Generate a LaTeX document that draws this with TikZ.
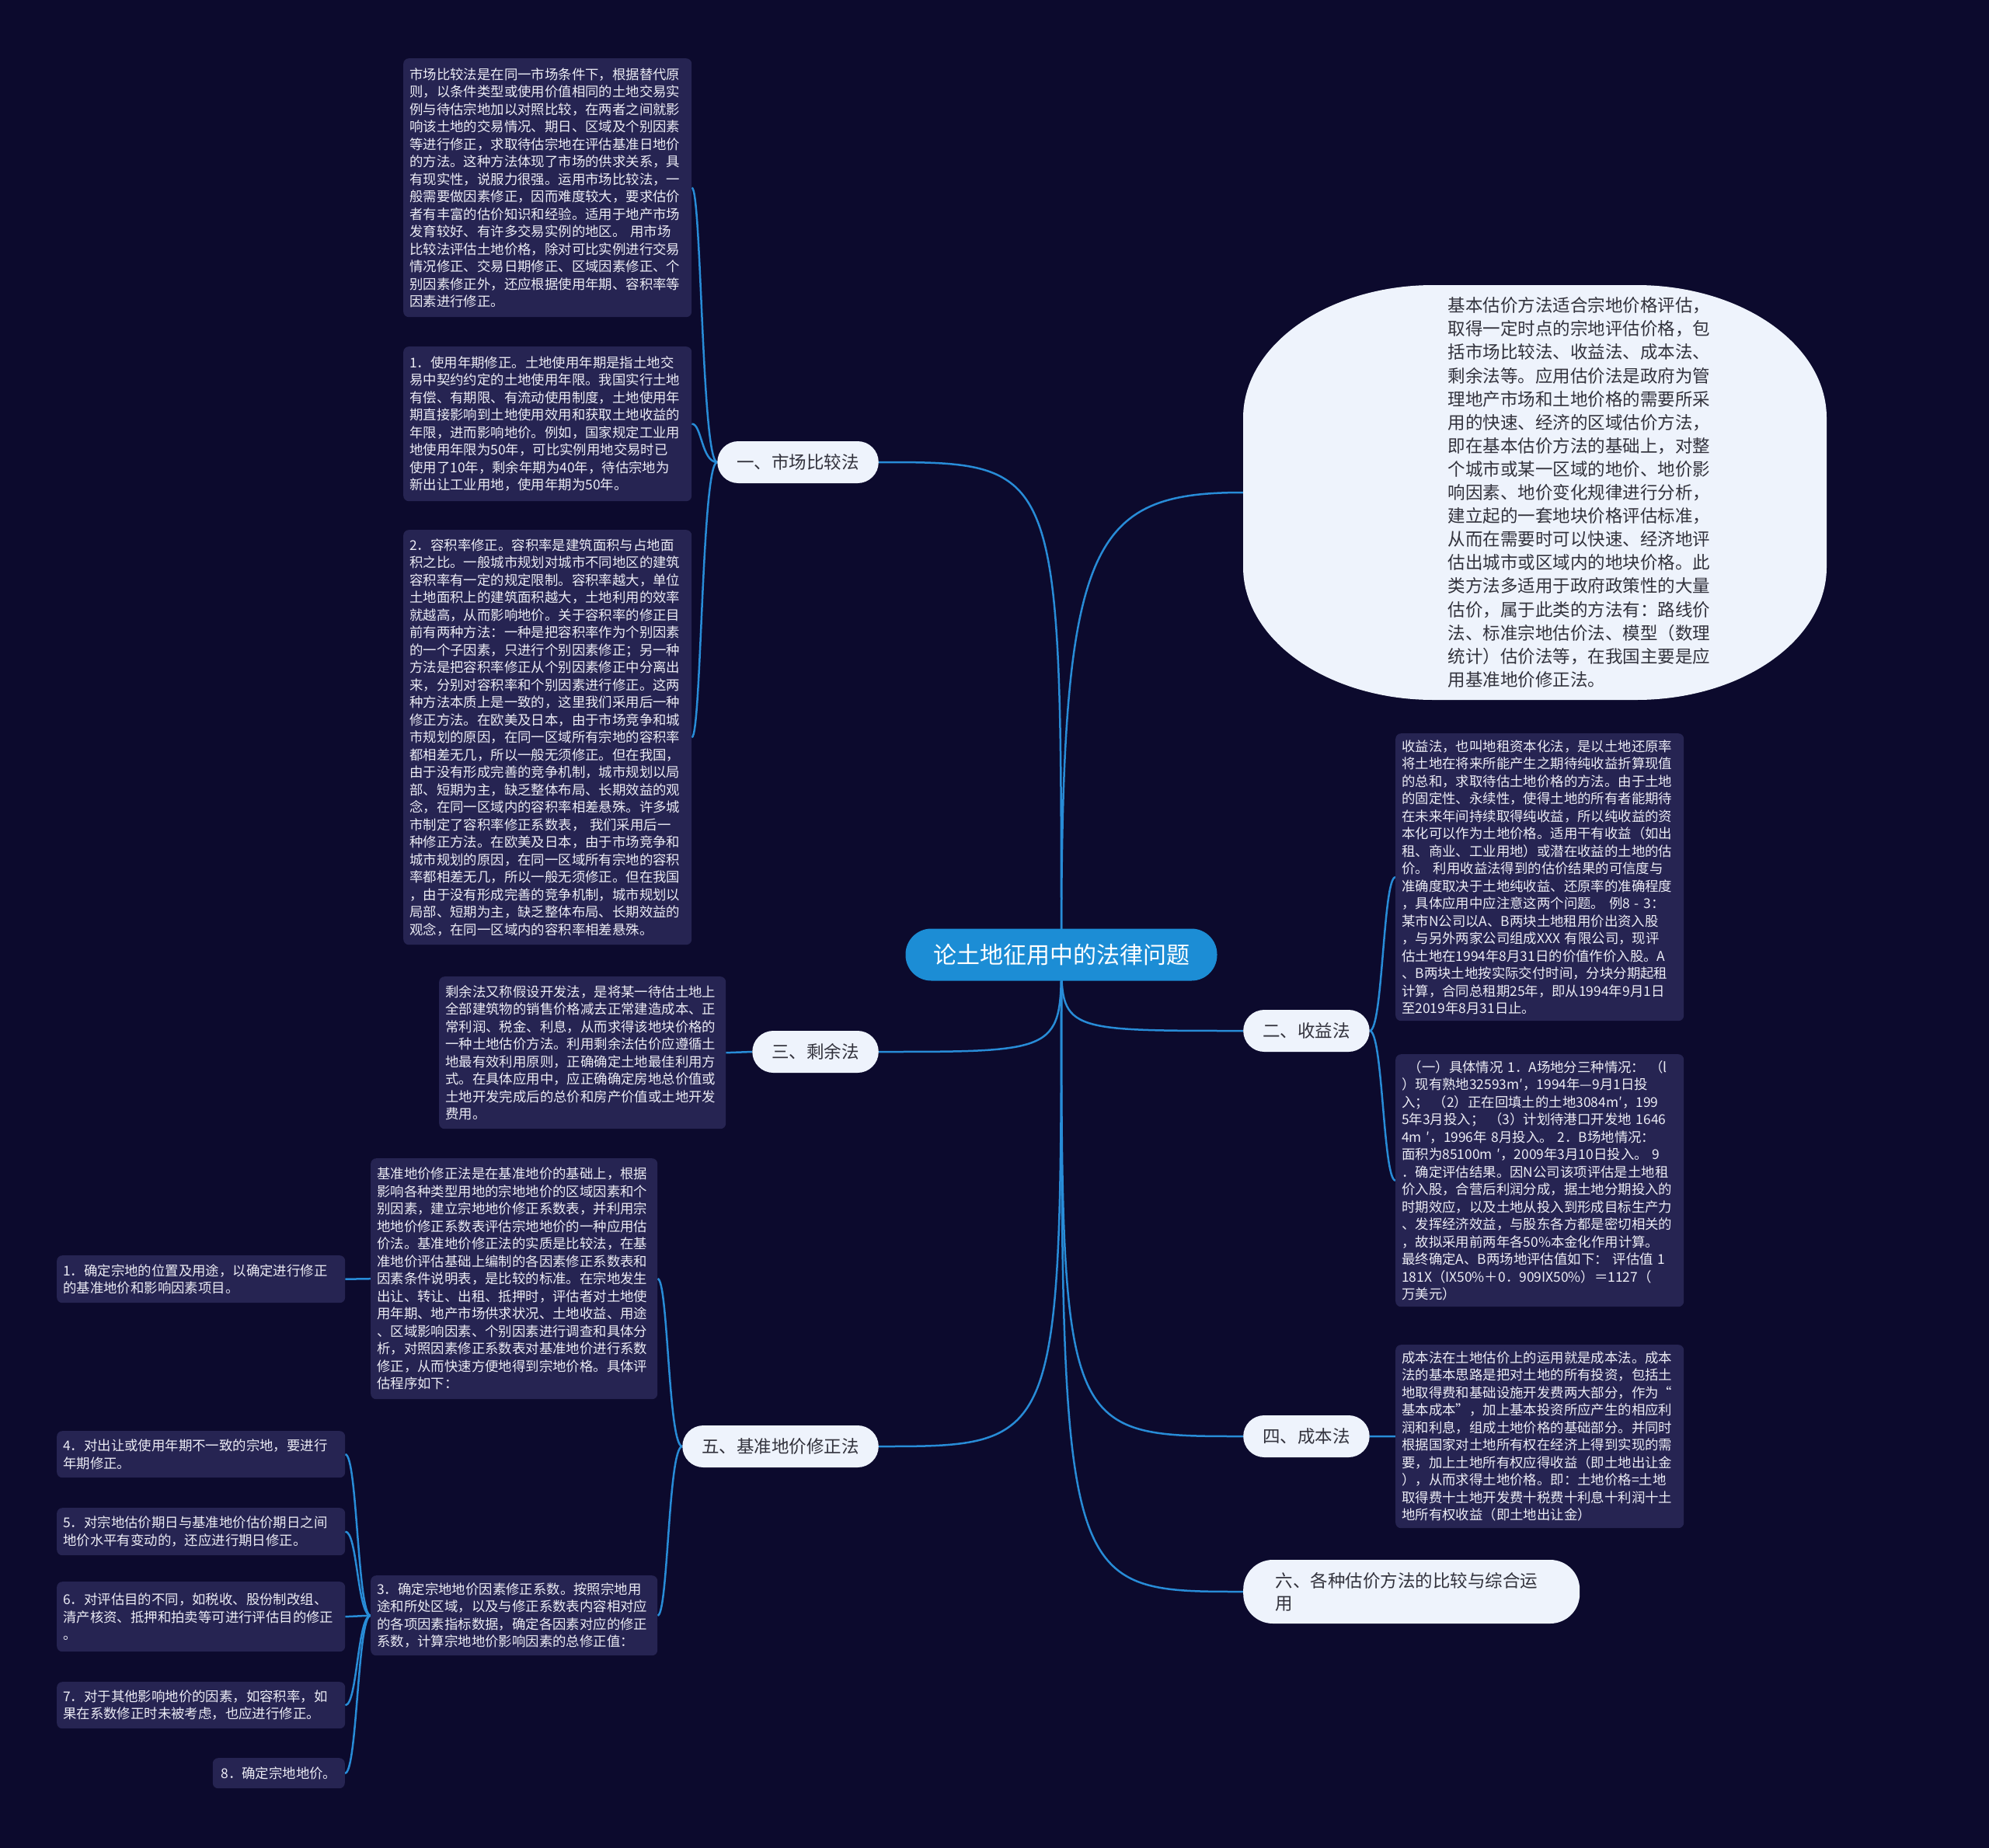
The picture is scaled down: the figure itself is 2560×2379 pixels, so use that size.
\documentclass[tikz,border=0pt]{standalone}
\usepackage{fontspec}
\newfontfamily\cjk{Noto Sans CJK SC}
\pgfdeclarelayer{back}
\pgfdeclarelayer{lines}
\pgfsetlayers{back,lines,main}
\definecolor{bgc}{RGB}{12,10,45}
\definecolor{boxc}{RGB}{38,36,82}
\definecolor{boxtxt}{RGB}{236,236,245}
\definecolor{linec}{RGB}{40,140,215}
\definecolor{centc}{RGB}{28,141,213}
\definecolor{lightc}{RGB}{238,243,252}
\definecolor{darktxt}{RGB}{50,50,60}
\tikzset{
  leaf/.style={fill=boxc, rounded corners=7pt, text=boxtxt, font=\cjk\fontsize{17.4}{22.5}\selectfont, align=left, anchor=north west, inner xsep=8pt, inner ysep=0pt, text width=355pt, minimum width=371pt},
  branchbox/.style={fill=lightc, rounded corners=27pt, text=darktxt, font=\cjk\fontsize{22.5}{29}\selectfont, inner xsep=25pt, inner ysep=0pt, minimum height=54pt},
  centerbox/.style={fill=centc, rounded corners=33pt, text=white, font=\cjk\fontsize{30}{36}\selectfont, minimum width=401pt, minimum height=67pt, inner sep=0pt},
  conn/.style={draw=linec, line width=2.5pt},
}
\begin{document}
\begin{tikzpicture}[x=1pt,y=-1pt]
\begin{pgfonlayer}{back}
\fill[bgc] (0,0) rectangle (2560,2379);
\end{pgfonlayer}
\useasboundingbox (0,0) rectangle (2560,2379);

% center
\node[centerbox] (c) at (1366,1229) {论土地征用中的法律问题};

% branches
\node[branchbox, anchor=east] (b1) at (1131,595) {一、市场比较法};
\node[branchbox, anchor=east] (b3) at (1131,1354) {三、剩余法};
\node[branchbox, anchor=east] (b5) at (1131,1862) {五、基准地价修正法};
\node[branchbox, anchor=west] (b2) at (1600,1327) {二、收益法};
\node[branchbox, anchor=west] (b4) at (1600,1849) {四、成本法};
\node[branchbox, anchor=west, align=left, text width=350pt, inner xsep=41.5pt, minimum height=82pt, rounded corners=38pt] (b6) at (1600,2049) {六、各种估价方法的比较与综合运\\用};

% ellipse-like shape: rectangle with elliptical corners
\node[minimum width=751pt, minimum height=534pt, inner sep=0pt] (ell) at (1975.5,634) {};
\fill[lightc] (1600,538) .. controls (1600,443.6) and (1709.7,367) .. (1845,367)
  -- (2106,367) .. controls (2241.3,367) and (2351,443.6) .. (2351,538)
  -- (2351,730) .. controls (2351,824.4) and (2241.3,901) .. (2106,901)
  -- (1845,901) .. controls (1709.7,901) and (1600,824.4) .. (1600,730) -- cycle;
\node[text=darktxt, font=\cjk\fontsize{22.5}{30.1}\selectfont, align=left, text width=345pt, inner sep=0pt] (ellt) at (2036,634) {基本估价方法适合宗地价格评估，\\取得一定时点的宗地评估价格，包\\括市场比较法、收益法、成本法、\\剩余法等。应用估价法是政府为管\\理地产市场和土地价格的需要所采\\用的快速、经济的区域估价方法，\\即在基本估价方法的基础上，对整\\个城市或某一区域的地价、地价影\\响因素、地价变化规律进行分析，\\建立起的一套地块价格评估标准，\\从而在需要时可以快速、经济地评\\估出城市或区域内的地块价格。此\\类方法多适用于政府政策性的大量\\估价，属于此类的方法有：路线价\\法、标准宗地估价法、模型（数理\\统计）估价法等，在我国主要是应\\用基准地价修正法。};

% left boxes
\node[leaf, minimum height=333pt] (A) at (519,75) {市场比较法是在同一市场条件下，根据替代原\\则，以条件类型或使用价值相同的土地交易实\\例与待估宗地加以对照比较，在两者之间就影\\响该土地的交易情况、期日、区域及个别因素\\等进行修正，求取待估宗地在评估基准日地价\\的方法。这种方法体现了市场的供求关系，具\\有现实性，说服力很强。运用市场比较法，一\\般需要做因素修正，因而难度较大，要求估价\\者有丰富的估价知识和经验。适用于地产市场\\发育较好、有许多交易实例的地区。 用市场\\比较法评估土地价格，除对可比实例进行交易\\情况修正、交易日期修正、区域因素修正、个\\别因素修正外，还应根据使用年期、容积率等\\因素进行修正。};
\node[leaf, minimum height=199pt] (B) at (519,446) {1．使用年期修正。土地使用年期是指土地交\\易中契约约定的土地使用年限。我国实行土地\\有偿、有期限、有流动使用制度，土地使用年\\期直接影响到土地使用效用和获取土地收益的\\年限，进而影响地价。例如，国家规定工业用\\地使用年限为50年，可比实例用地交易时已\\使用了10年，剩余年期为40年，待估宗地为\\新出让工业用地，使用年期为50年。};
\node[leaf, minimum height=534pt] (C) at (519,682) {2．容积率修正。容积率是建筑面积与占地面\\积之比。一般城市规划对城市不同地区的建筑\\容积率有一定的规定限制。容积率越大，单位\\土地面积上的建筑面积越大，土地利用的效率\\就越高，从而影响地价。关于容积率的修正目\\前有两种方法：一种是把容积率作为个别因素\\的一个子因素，只进行个别因素修正；另一种\\方法是把容积率修正从个别因素修正中分离出\\来，分别对容积率和个别因素进行修正。这两\\种方法本质上是一致的，这里我们采用后一种\\修正方法。在欧美及日本，由于市场竞争和城\\市规划的原因，在同一区域所有宗地的容积率\\都相差无几，所以一般无须修正。但在我国，\\由于没有形成完善的竞争机制，城市规划以局\\部、短期为主，缺乏整体布局、长期效益的观\\念，在同一区域内的容积率相差悬殊。许多城\\市制定了容积率修正系数表， 我们采用后一\\种修正方法。在欧美及日本，由于市场竞争和\\城市规划的原因，在同一区域所有宗地的容积\\率都相差无几，所以一般无须修正。但在我国\\，由于没有形成完善的竞争机制，城市规划以\\局部、短期为主，缺乏整体布局、长期效益的\\观念，在同一区域内的容积率相差悬殊。};
\node[leaf, minimum height=196pt, text width=353pt, minimum width=369pt] (D) at (565,1257) {剩余法又称假设开发法，是将某一待估土地上\\全部建筑物的销售价格减去正常建造成本、正\\常利润、税金、利息，从而求得该地块价格的\\一种土地估价方法。利用剩余法估价应遵循土\\地最有效利用原则，正确确定土地最佳利用方\\式。在具体应用中，应正确确定房地总价值或\\土地开发完成后的总价和房产价值或土地开发\\费用。};
\node[leaf, minimum height=310pt, text width=353pt, minimum width=369pt] (E) at (477,1491) {基准地价修正法是在基准地价的基础上，根据\\影响各种类型用地的宗地地价的区域因素和个\\别因素，建立宗地地价修正系数表，并利用宗\\地地价修正系数表评估宗地地价的一种应用估\\价法。基准地价修正法的实质是比较法，在基\\准地价评估基础上编制的各因素修正系数表和\\因素条件说明表，是比较的标准。在宗地发生\\出让、转让、出租、抵押时，评估者对土地使\\用年期、地产市场供求状况、土地收益、用途\\、区域影响因素、个别因素进行调查和具体分\\析，对照因素修正系数表对基准地价进行系数\\修正，从而快速方便地得到宗地价格。具体评\\估程序如下：};
\node[leaf, minimum height=103pt, text width=353pt, minimum width=369pt] (F) at (477,2028) {3．确定宗地地价因素修正系数。按照宗地用\\途和所处区域，以及与修正系数表内容相对应\\的各项因素指标数据，确定各因素对应的修正\\系数，计算宗地地价影响因素的总修正值：};

\node[leaf, minimum height=61pt] (s1) at (73,1616) {1．确定宗地的位置及用途，以确定进行修正\\的基准地价和影响因素项目。};
\node[leaf, minimum height=60pt] (s4) at (73,1842) {4．对出让或使用年期不一致的宗地，要进行\\年期修正。};
\node[leaf, minimum height=61pt] (s5) at (73,1941) {5．对宗地估价期日与基准地价估价期日之间\\地价水平有变动的，还应进行期日修正。};
\node[leaf, minimum height=90pt] (s6) at (73,2036) {6．对评估目的不同，如税收、股份制改组、\\清产核资、抵押和拍卖等可进行评估目的修正\\。};
\node[leaf, minimum height=60pt] (s7) at (73,2165) {7．对于其他影响地价的因素，如容积率，如\\果在系数修正时未被考虑，也应进行修正。};
\node[leaf, anchor=north east, text width=, minimum width=170pt, minimum height=39pt] (s8) at (444,2263) {8．确定宗地地价。};

% right boxes
\node[leaf, minimum height=370pt] (R1) at (1796,944) {收益法，也叫地租资本化法，是以土地还原率\\将土地在将来所能产生之期待纯收益折算现值\\的总和，求取待估土地价格的方法。由于土地\\的固定性、永续性，使得土地的所有者能期待\\在未来年间持续取得纯收益，所以纯收益的资\\本化可以作为土地价格。适用干有收益（如出\\租、商业、工业用地）或潜在收益的土地的估\\价。 利用收益法得到的估价结果的可信度与\\准确度取决于土地纯收益、还原率的准确程度\\，具体应用中应注意这两个问题。 例8 - 3：\\某市N公司以A、B两块土地租用价出资入股\\，与另外两家公司组成XXX 有限公司，现评\\估土地在1994年8月31日的价值作价入股。A\\、B两块土地按实际交付时间，分块分期起租\\计算，合同总租期25年，即从1994年9月1日\\至2019年8月31日止。};
\node[leaf, minimum height=325pt] (R2) at (1796,1357) {\hspace*{0.5em}（一）具体情况 1．A场地分三种情况： （l\\）现有熟地32593m′，1994年—9月1日投\\入； （2）正在回填土的土地3084m′，199\\5年3月投入； （3）计划待港口开发地 1646\\4m ′，1996年 8月投入。 2．B场地情况：\\面积为85100m ′，2009年3月10日投入。 9\\．确定评估结果。因N公司该项评估是土地租\\价入股，合营后利润分成，据土地分期投入的\\时期效应，以及土地从投入到形成目标生产力\\、发挥经济效益，与股东各方都是密切相关的\\，故拟采用前两年各50\%本金化作用计算。\\最终确定A、B两场地评估值如下： 评估值 1\\181X（IX50\%＋0．909IX50\%）＝1127（\\万美元）};
\node[leaf, minimum height=236pt] (R3) at (1796,1731) {成本法在土地估价上的运用就是成本法。成本\\法的基本思路是把对土地的所有投资，包括土\\地取得费和基础设施开发费两大部分，作为“\\基本成本”，加上基本投资所应产生的相应利\\润和利息，组成土地价格的基础部分。并同时\\根据国家对土地所有权在经济上得到实现的需\\要，加上土地所有权应得收益（即土地出让金\\），从而求得土地价格。即：土地价格=土地\\取得费十土地开发费十税费十利息十利润十土\\地所有权收益（即土地出让金）};

\begin{pgfonlayer}{lines}
% center to branches
\draw[conn] (c.center) .. controls (1366,595) and (1366,595) .. (b1.east);
\draw[conn] (c.center) .. controls (1366,700) and (1400,634) .. (ell.west);
\draw[conn] (c.center) .. controls (1366,1354) and (1366,1354) .. (b3.east);
\draw[conn] (c.center) .. controls (1366,1862) and (1366,1862) .. (b5.east);
\draw[conn] (c.center) .. controls (1366,1327) and (1366,1327) .. (b2.west);
\draw[conn] (c.center) .. controls (1366,1849) and (1366,1849) .. (b4.west);
\draw[conn] (c.center) .. controls (1366,2049) and (1366,2049) .. (b6.west);
% branch 1
\draw[conn] (b1.west) .. controls (903,595) and (903,241) .. (A.east);
\draw[conn] (b1.west) .. controls (903,595) and (903,545) .. (B.east);
\draw[conn] (b1.west) .. controls (903,595) and (903,949) .. (C.east);
% branch 3
\draw[conn] (b3.west) -- (D.east);
% branch 5
\draw[conn] (b5.west) .. controls (860,1862) and (860,1646) .. (E.east);
\draw[conn] (b5.west) .. controls (860,1862) and (860,2080) .. (F.east);
\draw[conn] (E.west) -- (s1.east);
\draw[conn] (F.west) .. controls (460,2080) and (460,1872) .. (s4.east);
\draw[conn] (F.west) .. controls (460,2080) and (460,1971) .. (s5.east);
\draw[conn] (F.west) .. controls (460,2080) and (460,2081) .. (s6.east);
\draw[conn] (F.west) .. controls (460,2080) and (460,2195) .. (s7.east);
\draw[conn] (F.west) .. controls (460,2080) and (460,2283) .. (s8.east);
% branch 2
\draw[conn] (b2.east) .. controls (1780,1327) and (1780,1129) .. (R1.west);
\draw[conn] (b2.east) .. controls (1780,1327) and (1780,1519) .. (R2.west);
% branch 4
\draw[conn] (b4.east) -- (R3.west);
\end{pgfonlayer}
\end{tikzpicture}
\end{document}
